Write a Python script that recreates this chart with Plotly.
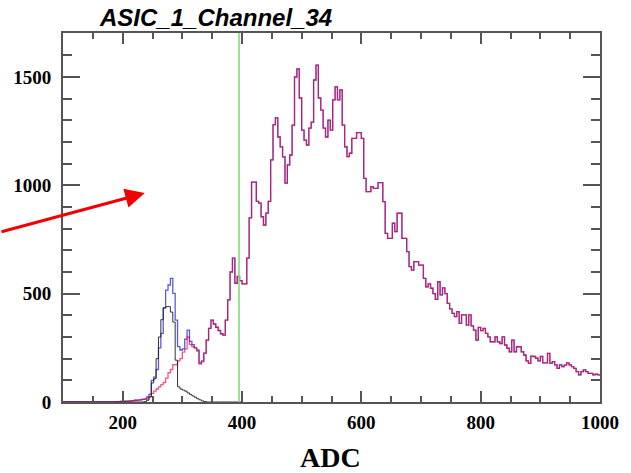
import numpy as np
import plotly.graph_objects as go

# Histogram settings (ADC), bin width 4
bin_start = 100
bin_width = 4

# Signal (red) histogram, bins from 100 to 1000
red_counts = [
    0, 0, 0, 0, 0, 0, 0, 0, 0, 0,            # 100-136
    0, 0, 0, 0, 0, 0, 0, 0, 0, 0,            # 140-176
    0, 1, 2, 2, 3, 3, 4, 4, 5, 6,            # 180-216
    8, 9, 10, 12, 12, 15, 25, 40, 50, 60,    # 220-256
    70, 80, 90, 110, 135, 150, 172, 172, 190, 200,   # 260-296
    230, 245, 300, 265, 255, 250, 235, 175, 185, 226,  # 300-336
    286, 340, 378, 360, 345, 330, 315, 309, 378, 471,  # 340-376
    600, 664, 548, 580, 560, 545, 545, 664, 850, 1015,  # 380-416
    1015, 926, 918, 855, 817, 872, 926, 1117, 1280, 1311,  # 420-456
    1223, 1177, 1131, 1010, 1094, 1140, 1278, 1500, 1537, 1403,  # 460-496
    1255, 1209, 1186, 1264, 1292, 1486, 1555, 1403, 1347, 1264,  # 500-536
    1223, 1301, 1255, 1394, 1454, 1394, 1440, 1278, 1178, 1132,  # 540-576
    1148, 1217, 1217, 1243, 1243, 1217, 1032, 971, 971, 994,  # 580-616
    986, 986, 1012, 1012, 925, 778, 755, 755, 825, 786,  # 620-656
    871, 871, 755, 755, 694, 625, 609, 648, 648, 632,  # 660-696
    632, 571, 532, 545, 525, 500, 474, 555, 494, 527,  # 700-736
    500, 455, 430, 409, 394, 417, 363, 402, 402, 355,  # 740-776
    402, 351, 332, 286, 344, 329, 340, 317, 301, 278,  # 780-816
    278, 301, 278, 270, 301, 263, 248, 232, 286, 232,  # 820-856
    255, 255, 232, 217, 190, 178, 212, 210, 202, 190,  # 860-896
    210, 181, 181, 224, 178, 186, 171, 155, 171, 163,  # 900-936
    170, 181, 171, 163, 155, 140, 125, 140, 148, 140,  # 940-976
    132, 132, 125, 128, 125,                           # 980-996
]

# Total (blue) histogram: low-ADC part read separately, identical to red above 340
blue_counts_low = [
    0, 0, 0, 0, 0, 0, 0, 0, 0, 0,            # 100-136
    0, 0, 0, 0, 0, 0, 0, 0, 0, 0,            # 140-176
    0, 1, 2, 2, 3, 3, 4, 4, 5, 6,            # 180-216
    8, 9, 10, 12, 14, 23, 35, 100, 115, 150,  # 220-256
    250, 317, 434, 516, 540, 571, 501, 378, 256, 240,  # 260-296
    245, 290, 332, 280, 265, 250, 240, 180, 190, 226,  # 300-336
]
blue_counts = blue_counts_low + red_counts[len(blue_counts_low):]

# Pedestal (black) histogram, bins from 100 to 396
black_counts = [
    0, 0, 0, 0, 0, 0, 0, 0, 0, 0,            # 100-136
    0, 0, 0, 0, 0, 0, 0, 0, 0, 0,            # 140-176
    0, 0, 0, 0, 0, 0, 0, 0, 0, 0,            # 180-216
    0, 0, 0, 0, 2, 8, 23, 88, 107, 200,      # 220-256
    300, 380, 434, 440, 440, 415, 369, 193, 70, 60,  # 260-296
    55, 50, 42, 35, 28, 22, 15, 10, 5, 2,    # 300-336
    0, 0, 0, 0, 0, 0, 0, 0, 0, 0,            # 340-376
    0, 0, 0, 0, 0,                           # 380-396
]

cut_adc = 395
x_ticks = [200, 400, 600, 800, 1000]
y_ticks = [0, 500, 1000, 1500]
title_text = "ASIC_1_Channel_34"
x_title = "ADC"


def step(counts):
    edges = bin_start + bin_width * np.arange(len(counts) + 1)
    return edges, list(counts) + [counts[-1]]


fig = go.Figure()
xb, yb = step(blue_counts)
fig.add_trace(go.Scatter(x=xb, y=yb, mode="lines", line=dict(shape="hv", color="rgba(0,0,210,0.65)", width=1.3),
                         hoverinfo="skip", showlegend=False))
xr, yr = step(red_counts)
fig.add_trace(go.Scatter(x=xr, y=yr, mode="lines", line=dict(shape="hv", color="rgba(230,0,60,0.65)", width=1.3),
                         hoverinfo="skip", showlegend=False))
xk, yk = step(black_counts)
fig.add_trace(go.Scatter(x=xk, y=yk, mode="lines", line=dict(shape="hv", color="rgba(30,30,30,0.9)", width=1),
                         hoverinfo="skip", showlegend=False))

fig.add_shape(type="line", xref="x", yref="paper", x0=cut_adc, x1=cut_adc, y0=0, y1=1,
              line=dict(color="rgb(130,220,120)", width=1.6), layer="above")

# red arrow
fig.add_annotation(x=237, y=964, xref="x", yref="y", ax=-145, ay=39, axref="pixel", ayref="pixel",
                   text="", showarrow=True, arrowhead=2, arrowsize=1.3, arrowwidth=3, arrowcolor="rgb(240,0,0)")

# title
fig.add_annotation(x=(97 - 63) / 540, y=(402 - 18) / 369, xref="paper", yref="paper", xanchor="left", yanchor="middle",
                   text=title_text, showarrow=False,
                   font=dict(family="Liberation Sans, Arial", size=24, color="black", weight="bold", style="italic"))
# x-axis title
fig.add_annotation(x=(332 - 63) / 540, y=-(457 - 402) / 369, xref="paper", yref="paper", xanchor="center", yanchor="middle",
                   text=x_title, showarrow=False,
                   font=dict(family="Liberation Serif, Times New Roman", size=28, color="black", weight="bold"))

axis_common = dict(showgrid=False, zeroline=False, showline=True, linecolor="#555", linewidth=2,
                   ticks="inside", tickcolor="#555", mirror="allticks",
                   tickfont=dict(family="Liberation Serif, Times New Roman", size=19, color="black", weight="bold"))

fig.update_xaxes(range=[100, 1000], tickvals=x_ticks, ticktext=[str(v) for v in x_ticks], ticklen=11, tickwidth=1.5,
                 ticklabelstandoff=2,
                 minor=dict(dtick=50, tick0=0, ticklen=6, tickcolor="#555", ticks="inside"), **axis_common)
fig.update_yaxes(range=[0, 1703], tickvals=y_ticks, ticktext=[str(v) for v in y_ticks], ticklen=17, tickwidth=2,
                 ticklabelstandoff=6,
                 minor=dict(dtick=100, tick0=0, ticklen=9, tickcolor="#555", ticks="inside"), **axis_common)

fig.update_layout(width=631, height=473, margin=dict(l=63, r=28, t=33, b=71),
                  plot_bgcolor="white", paper_bgcolor="white")

fig.write_html("out.html")
